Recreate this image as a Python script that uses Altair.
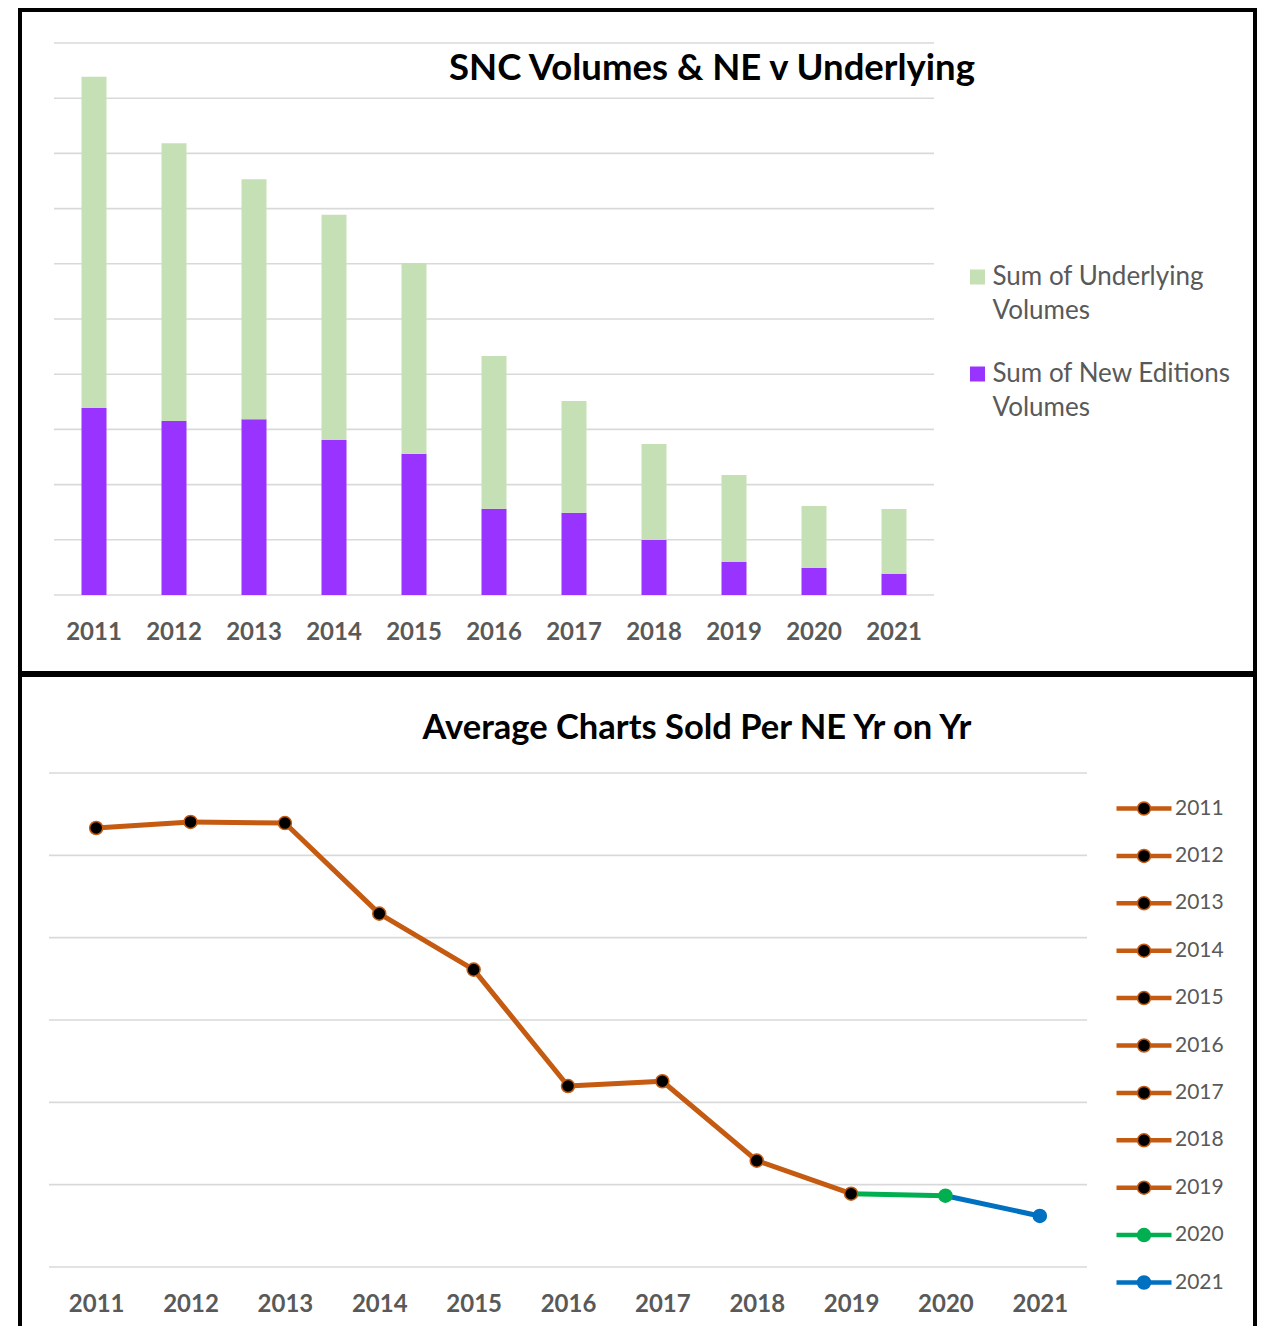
import altair as alt
import pandas as pd

# ---------------- data ----------------
years = ["2011", "2012", "2013", "2014", "2015", "2016", "2017", "2018", "2019", "2020", "2021"]
new_editions = [1694, 1576, 1592, 1404, 1280, 782, 745, 498, 302, 247, 193]
underlying = [3001, 2516, 2173, 2041, 1727, 1383, 1012, 870, 785, 559, 586]
series_names = ["Sum of Underlying Volumes", "Sum of New Editions Volumes"]
grid_top = [0, 500, 1000, 1500, 2000, 2500, 3000, 3500, 4000, 4500, 5000]

avg_charts = [266.6, 270.3, 269.6, 214.6, 180.6, 109.9, 112.8, 64.6, 44.5, 43.3, 31.0]
grid_bottom = [0, 50, 100, 150, 200, 250, 300]

title_top = "SNC Volumes  & NE v Underlying"
title_bottom = "Average Charts Sold Per NE Yr on Yr"

# ---------------- styles ----------------
GREEN_BAR = "#C5E0B4"
PURPLE = "#9933FF"
ORANGE = "#C55A11"
GREEN = "#00B050"
BLUE = "#0070C0"
GRID = "#D9D9D9"
LABEL = "#595959"
FONT = "Lato"
W, H_TOP, H_BOT = 1235, 663, 657

line_colors = [ORANGE] * 9 + [GREEN, BLUE]
marker_fills = ["black"] * 9 + [GREEN, BLUE]

# ---------------- top panel ----------------
bars_df = pd.DataFrame({
    "year": years * 2,
    "series": [series_names[1]] * len(years) + [series_names[0]] * len(years),
    "value": new_editions + underlying,
    "stack": [0] * len(years) + [1] * len(years),
})

x_top = alt.Scale(domain=years, range=[34, 914], paddingInner=0.6875, paddingOuter=0.34375)
y_top = alt.Scale(domain=[0, 5000], range=[585, 33], nice=False, zero=True)

grid_top_layer = alt.Chart(pd.DataFrame({"v": grid_top})).mark_rule(
    color=GRID, strokeWidth=1.6
).encode(
    y=alt.Y("v:Q", scale=y_top, axis=None),
    x=alt.value(34),
    x2=alt.value(914),
)

bars = alt.Chart(bars_df).mark_bar().encode(
    x=alt.X("year:N", scale=x_top, sort=years,
            axis=alt.Axis(title=None, domain=False, ticks=False, tickSize=0, grid=False,
                          labelFont=FONT, labelFontSize=24, labelFontWeight="bold",
                          labelColor=LABEL, labelPadding=37, labelBaseline="middle",
                          labelAngle=0, offset=-(H_TOP - 585))),
    y=alt.Y("value:Q", stack="zero", scale=y_top, axis=None),
    color=alt.Color("series:N",
                    scale=alt.Scale(domain=series_names, range=[GREEN_BAR, PURPLE]),
                    legend=alt.Legend(orient="none", legendX=944.5, legendY=254, title=None,
                                      symbolType="square", symbolSize=225, symbolStrokeWidth=0,
                                      labelFont=FONT, labelFontSize=26, labelColor=LABEL,
                                      labelOffset=2, labelLimit=400, rowPadding=37, padding=0,
                                      labelExpr="[substring(datum.label, 0, lastindexof(datum.label, ' ')), substring(datum.label, lastindexof(datum.label, ' ') + 1)]")),
    order=alt.Order("stack:Q"),
)

title_top_layer = alt.Chart(pd.DataFrame({"t": [title_top]})).mark_text(
    font=FONT, fontSize=36.5, fontWeight="bold", color="black", baseline="middle", align="center"
).encode(x=alt.value(692), y=alt.value(59), text="t:N")

top = alt.layer(grid_top_layer, bars, title_top_layer).properties(width=W, height=H_TOP)

# ---------------- bottom panel ----------------
pts_df = pd.DataFrame({"x": years, "year": years, "value": avg_charts})
seg_rows = []
for i in range(1, len(years)):
    seg_rows.append({"x": years[i - 1], "value": avg_charts[i - 1], "year": years[i]})
    seg_rows.append({"x": years[i], "value": avg_charts[i], "year": years[i]})
seg_df = pd.DataFrame(seg_rows)

x_bot = alt.Scale(type="point", domain=years, range=[29, 1067], padding=0.5)
y_bot = alt.Scale(domain=[0, 300], range=[592, 98], nice=False, zero=True)
stroke_scale = alt.Scale(domain=years, range=line_colors)
fill_scale = alt.Scale(domain=years, range=marker_fills)

axis_bot = alt.Axis(title=None, domain=False, ticks=False, tickSize=0, grid=False,
                    labelFont=FONT, labelFontSize=24, labelFontWeight="bold",
                    labelColor=LABEL, labelPadding=37, labelBaseline="middle",
                    labelAngle=0, offset=-(H_BOT - 592))

LEG_PATH = ("M-2.75,-0.15H-0.6M-2.75,0H-0.65M-2.75,0.15H-0.6"
            "M0.6,-0.15H2.75M0.65,0H2.75M0.6,0.15H2.75"
            "M0.65,0A0.65,0.65,0,1,1,-0.65,0A0.65,0.65,0,1,1,0.65,0Z")
legend_bot = alt.Legend(orient="none", legendX=1113, legendY=122.5, title=None,
                        symbolType=LEG_PATH, symbolSize=400, symbolStrokeWidth=1.5,
                        symbolOpacity=1, labelFont=FONT, labelFontSize=21, labelColor=LABEL,
                        labelOffset=20, rowPadding=26.4, padding=0, labelLimit=200)

grid_bot_layer = alt.Chart(pd.DataFrame({"v": grid_bottom})).mark_rule(
    color=GRID, strokeWidth=1.6
).encode(
    y=alt.Y("v:Q", scale=y_bot, axis=None),
    x=alt.value(29),
    x2=alt.value(1067),
)

lines = alt.Chart(seg_df).mark_line(strokeWidth=5, strokeCap="round").encode(
    x=alt.X("x:O", scale=x_bot, sort=years, axis=axis_bot),
    y=alt.Y("value:Q", scale=y_bot, axis=None),
    stroke=alt.Stroke("year:N", scale=stroke_scale, legend=legend_bot),
)

points = alt.Chart(pts_df).mark_point(shape="circle", filled=True, size=170, strokeWidth=1.5, opacity=1).encode(
    x=alt.X("x:O", scale=x_bot, sort=years, axis=axis_bot),
    y=alt.Y("value:Q", scale=y_bot, axis=None),
    fill=alt.Fill("year:N", scale=fill_scale, legend=legend_bot),
    stroke=alt.Stroke("year:N", scale=stroke_scale, legend=legend_bot),
)

title_bot_layer = alt.Chart(pd.DataFrame({"t": [title_bottom]})).mark_text(
    font=FONT, fontSize=34.5, fontWeight="bold", color="black", baseline="middle", align="center"
).encode(x=alt.value(677), y=alt.value(54), text="t:N")

bottom = alt.layer(grid_bot_layer, lines, points, title_bot_layer).properties(width=W, height=H_BOT)

chart = alt.vconcat(top, bottom, spacing=-4).resolve_scale(
    color="independent", fill="independent", stroke="independent"
).resolve_legend(
    color="independent", fill="independent", stroke="independent"
).properties(
    padding={"left": 10, "top": 0, "right": 0, "bottom": -8}
).configure(
    view=alt.ViewConfig(stroke="black", strokeWidth=4),
    style={"guide-label": {"lineHeight": 34}},
)

chart.save("out.html", embed_options={"renderer": "svg", "actions": False})
